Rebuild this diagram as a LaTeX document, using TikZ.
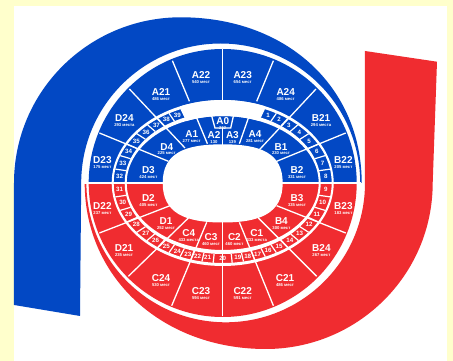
\documentclass[tikz,border=0pt]{standalone}
\usepackage{fontspec}
\setmainfont{Liberation Sans}
\usepackage{tikz}
\usetikzlibrary{positioning}
\definecolor{pagebg}{RGB}{255,255,204}
\definecolor{sectorblue}{RGB}{2,72,196}
\definecolor{sectorred}{RGB}{240,44,48}
\tikzset{
  seatname/.style={text=white, inner sep=0pt, font=\fontsize{10}{10}\selectfont\bfseries},
  seatcount/.style={text=white, inner sep=0pt, font=\fontsize{4.2}{4.2}\selectfont\bfseries},
  cellnum/.style={text=white, inner sep=0pt, font=\fontsize{6.2}{6.2}\selectfont\bfseries},
  seam/.style={draw=white, line width=1.3pt},
  cellseam/.style={draw=white, line width=1.2pt},
}
\begin{document}
\begin{tikzpicture}[x=1pt, y=1pt]
  \fill[pagebg] (-222.7,-178) rectangle (230.3,183);
  \fill[white] (-208.7,-178) rectangle (224,177);
  \fill[sectorblue] (-208.7,0) -- (-208.7,-122) -- (-142.7,-133) -- (-141.5,0)
    arc[start angle=180, end angle=0, radius=139.5] -- (139,0)
    .. controls (139,95) and (65,165.7) .. (-42,165.7)
    arc[start angle=90, end angle=180, x radius=166.7, y radius=165.7] -- cycle;
  \fill[sectorred] (142.3,0) -- (142.3,132) -- (214.3,121.3) -- (210,0)
    arc[start angle=0, end angle=-90, x radius=167, y radius=166]
    .. controls (-60,-166) and (-138,-95) .. (-138,0) -- (-136.3,0)
    arc[start angle=180, end angle=360, radius=139.3] -- cycle;
  \fill[sectorblue] (134,0) arc[start angle=0, end angle=180, radius=134] -- cycle;
  \fill[sectorred] (134,0) arc[start angle=0, end angle=-180, radius=134] -- cycle;
  \fill[white, even odd rule] (0,0) ellipse[x radius=98, y radius=71] (0,0) ellipse[x radius=96, y radius=67];
  \fill[white, even odd rule] (0,0) ellipse[x radius=111, y radius=83] (0,0) ellipse[x radius=109, y radius=80];
  \fill[white] (67.5:96 and 67) arc[start angle=67.5, end angle=112.5, x radius=96, y radius=67]
    -- (112.5:111 and 83) arc[start angle=112.5, end angle=67.5, x radius=111, y radius=83] -- cycle;
  \foreach \t in {10,20,29,38,46.5,53.5,60.5,67.5,170,160,151,142,133.5,126.5,119.5,112.5,-10,-20,-29,-38,-46,-53.5,-60.5,-67,-73,-79,-85,-170,-160,-151,-142,-134,-126.5,-119.5,-113,-107,-101,-95}
    \draw[cellseam] (\t:98 and 71) -- (\t:109 and 80);
  \draw[seam] (-140,0) -- (138,0);
  \draw[seam] (-93.3,94) -- (-37.7,35);
  \draw[seam] (93.3,94) -- (36.7,33.3);
  \draw[seam] (123,50) -- (54,21.7);
  \draw[seam] (-123.3,50) -- (-54.3,21.7);
  \draw[seam] (-123.3,-50) -- (-52.7,-22.7);
  \draw[seam] (123,-50) -- (54,-22.7);
  \draw[seam] (-94.3,-93.3) -- (-34.3,-35);
  \draw[seam] (94,-93.3) -- (35.7,-35);
  \draw[seam] (-50.3,122.3) -- (-33.3,81.7);
  \draw[seam] (50.7,122.3) -- (34,81.7);
  \draw[seam] (0,133.5) -- (0,82);
  \draw[seam] (-51,-122.7) -- (-16,-39.3);
  \draw[seam] (50.7,-122.7) -- (16.7,-39.3);
  \draw[seam] (0,-133.5) -- (0,-39.3);
  \draw[seam] (-26,65) -- (-15.3,39.3);
  \draw[seam] (25.7,65) -- (16.7,39.3);
  \draw[seam] (0,55) -- (0,38);
  \draw[seam] (-11,67) -- (-7.7,55) -- (8,55) -- (10.7,67);
  \fill[white] (-60,0) .. controls (-60,30) and (-38,38.7) .. (0,38.7)
    .. controls (38,38.7) and (60,30) .. (60,0)
    .. controls (60,-30) and (38,-39.5) .. (0,-39.5)
    .. controls (-38,-39.5) and (-60,-30) .. (-60,0) -- cycle;
  \foreach \nm/\px/\py/\cnt in {A22/-21.7/108/540 мест, A23/20/108/654 мест, A21/-61.7/91.3/486 мест, A24/63/91.3/486 мест,
    D24/-98.3/65/293 места, B21/98.3/65/294 места, D23/-120.3/23/175 мест, B22/120.7/23/205 мест,
    A1/-31/48.7/277 мест, A2/-8.7/48/130, A0/0/61.7/252, A3/9.7/48/139, A4/32.3/48.7/281 мест,
    D4/-56/36.3/225 мест, B1/58.3/36.3/230 мест, D3/-74.3/13/424 мест, B2/74.3/13/331 мест,
    D2/-74.3/-15.3/405 мест, B3/74.3/-15.3/335 мест, D22/-120.3/-22.7/237 мест, B23/120.7/-22.7/183 мест,
    D1/-56.7/-38.3/252 мест, B4/58.7/-38.3/300 мест, C4/-34/-50.3/433 места, C3/-11.7/-53.7/460 мест,
    C2/11.7/-53.7/460 мест, C1/34/-50.3/333 места, D21/-98.7/-65.3/235 мест, B24/98.7/-65.3/267 мест,
    C24/-61.7/-95.3/530 мест, C21/62.3/-95.3/486 мест, C23/-21.7/-108.3/594 мест, C22/20/-108.3/591 мест}
  {
    \node[seatname] (\nm) at (\px,\py) {\nm};
    \node[seatcount, below=1.5pt of \nm] {\cnt};
  }
  \foreach \n/\t in {1/64,2/57,3/50.2,4/42.2,5/33.5,6/24.5,7/15.1,8/4.9,9/-4.9,10/-15,11/-24.5,12/-33.5,13/-42,14/-49.6,15/-57,16/-64,17/-70.3,18/-76,19/-81.6,20/-90,21/-98.4,22/-104,23/-109.7,24/-116,25/-123,26/-130.4,27/-138,28/-146.5,29/-155.5,30/-165,31/-175,32/175,33/164.9,34/155.5,35/146.5,36/137.8,37/129.8,38/123,39/116}
    \node[cellnum] (n\n) at (\t:103.5 and 75.5) {\n};
\end{tikzpicture}
\end{document}
